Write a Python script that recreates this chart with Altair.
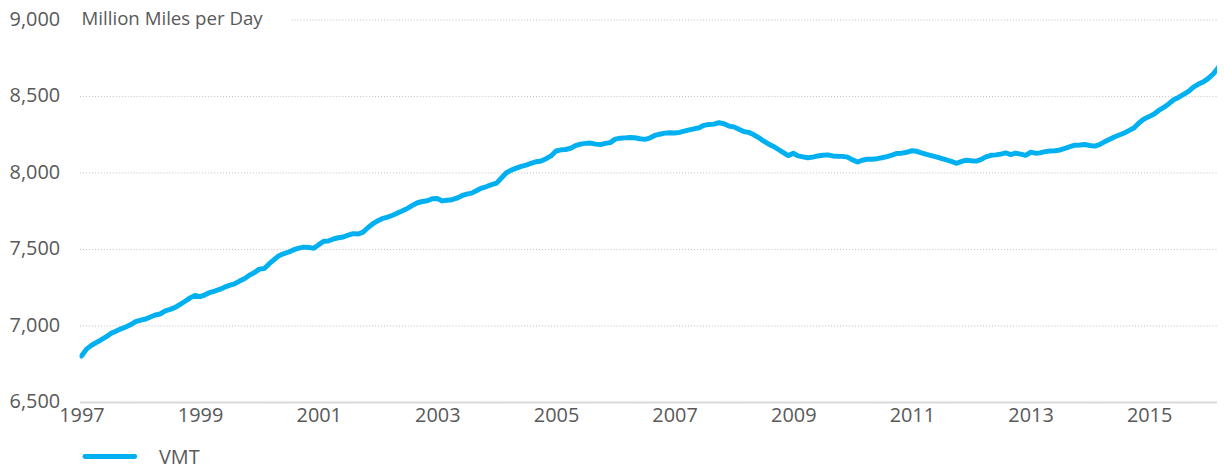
import altair as alt
import pandas as pd

# Monthly vehicle miles travelled (million miles per day), Jan 1997 onward
vmt_1997 = [6800, 6845, 6868, 6888, 6905, 6925, 6948, 6962, 6978, 6990, 7006, 7025]
vmt_1998 = [7035, 7042, 7055, 7068, 7075, 7095, 7105, 7118, 7138, 7158, 7180, 7196]
vmt_1999 = [7188, 7200, 7215, 7225, 7235, 7250, 7262, 7272, 7290, 7305, 7328, 7345]
vmt_2000 = [7368, 7372, 7402, 7430, 7456, 7470, 7480, 7495, 7505, 7512, 7510, 7504]
vmt_2001 = [7528, 7550, 7552, 7565, 7573, 7578, 7590, 7600, 7598, 7610, 7640, 7665]
vmt_2002 = [7685, 7700, 7708, 7720, 7735, 7750, 7765, 7785, 7802, 7810, 7815, 7828]
vmt_2003 = [7830, 7814, 7818, 7822, 7832, 7848, 7858, 7865, 7882, 7898, 7908, 7920]
vmt_2004 = [7930, 7965, 7998, 8015, 8028, 8040, 8048, 8060, 8070, 8075, 8090, 8108]
vmt_2005 = [8140, 8148, 8150, 8158, 8175, 8185, 8190, 8192, 8185, 8182, 8190, 8195]
vmt_2006 = [8218, 8224, 8226, 8228, 8227, 8220, 8216, 8225, 8242, 8250, 8257, 8260]
vmt_2007 = [8258, 8262, 8270, 8278, 8285, 8292, 8308, 8314, 8316, 8325, 8318, 8303]
vmt_2008 = [8298, 8282, 8268, 8262, 8248, 8228, 8206, 8186, 8170, 8150, 8130, 8110]
vmt_2009 = [8125, 8108, 8102, 8096, 8100, 8108, 8112, 8115, 8108, 8106, 8105, 8100]
vmt_2010 = [8082, 8068, 8080, 8086, 8086, 8090, 8096, 8104, 8114, 8124, 8126, 8132]
vmt_2011 = [8142, 8138, 8128, 8118, 8110, 8102, 8092, 8082, 8072, 8060, 8070, 8080]
vmt_2012 = [8076, 8074, 8084, 8102, 8112, 8115, 8120, 8128, 8117, 8126, 8120, 8112]
vmt_2013 = [8132, 8126, 8128, 8136, 8140, 8142, 8147, 8158, 8168, 8178, 8180, 8183]
vmt_2014 = [8176, 8172, 8182, 8200, 8215, 8232, 8245, 8258, 8275, 8292, 8325, 8350]
vmt_2015 = [8365, 8382, 8405, 8425, 8448, 8475, 8490, 8510, 8530, 8558, 8578, 8592]
vmt_2016 = [8615, 8645, 8685]

series_name = "VMT"
y_ticks = [6500, 7000, 7500, 8000, 8500, 9000]
x_tick_years = [1997, 1999, 2001, 2003, 2005, 2007, 2009, 2011, 2013, 2015]
unit_label = "Million Miles per Day"

values = (vmt_1997 + vmt_1998 + vmt_1999 + vmt_2000 + vmt_2001 + vmt_2002 + vmt_2003
          + vmt_2004 + vmt_2005 + vmt_2006 + vmt_2007 + vmt_2008 + vmt_2009 + vmt_2010
          + vmt_2011 + vmt_2012 + vmt_2013 + vmt_2014 + vmt_2015 + vmt_2016)
dates = pd.date_range("1997-01-01", periods=len(values), freq="MS")
df = pd.DataFrame({"date": dates, "value": values, "series": series_name})

FONT = "Open Sans"
TXT = "#595959"
BLUE = "#00B0F0"

line = alt.Chart(df).mark_line(
    strokeWidth=5, strokeCap="round", strokeJoin="round", clip=True
).encode(
    x=alt.X(
        "date:T",
        scale=alt.Scale(domain=[alt.DateTime(year=1996, month=12, date=20),
                                alt.DateTime(year=2016, month=2, date=23)]),
        axis=alt.Axis(values=[alt.DateTime(year=y, month=1, date=1) for y in x_tick_years],
                      format="%Y", title=None, ticks=False, grid=False,
                      domain=True, domainColor="#d9d9d9", domainWidth=2,
                      labelPadding=4, labelFontSize=20, labelFont=FONT, labelColor=TXT),
    ),
    y=alt.Y(
        "value:Q",
        scale=alt.Scale(domain=[6500, 9000], nice=False, zero=False),
        axis=alt.Axis(values=y_ticks, format=",d", title=None, ticks=False, domain=False,
                      grid=True, gridColor="#bfbfbf", gridDash=[1, 2], gridWidth=1,
                      labelPadding=20, labelFontSize=20, labelFont=FONT, labelColor=TXT),
    ),
    color=alt.Color("series:N", scale=alt.Scale(range=[BLUE]), legend=None),
)

mask = alt.Chart(pd.DataFrame({"k": [0]})).mark_rect(color="white").encode(
    x=alt.value(0), x2=alt.value(212), y=alt.value(-6), y2=alt.value(6)
)

title_txt = alt.Chart(pd.DataFrame({"t": [unit_label]})).mark_text(
    align="left", baseline="middle", fontSize=18.8, font=FONT, color=TXT
).encode(x=alt.value(2), y=alt.value(0), text="t:N")

legend_df = pd.DataFrame({"series": [series_name]})
legend_sym = alt.Chart(legend_df).mark_rule(strokeWidth=5, strokeCap="round").encode(
    x=alt.value(5.5), x2=alt.value(55.5), y=alt.value(440),
    color=alt.Color("series:N", scale=alt.Scale(range=[BLUE]), legend=None),
)
legend_lbl = alt.Chart(legend_df).mark_text(
    align="left", baseline="middle", fontSize=20, font=FONT, color=TXT
).encode(x=alt.value(80), y=alt.value(441), text="series:N")

chart = alt.layer(mask, line, title_txt, legend_sym, legend_lbl).properties(
    width=1145, height=385,
    padding={"left": 72, "top": 10, "right": 0, "bottom": 70},
    autosize=alt.AutoSizeParams(type="none"),
).configure_view(stroke=None)

chart.save("out.html", embed_options={"renderer": "svg", "actions": False})
